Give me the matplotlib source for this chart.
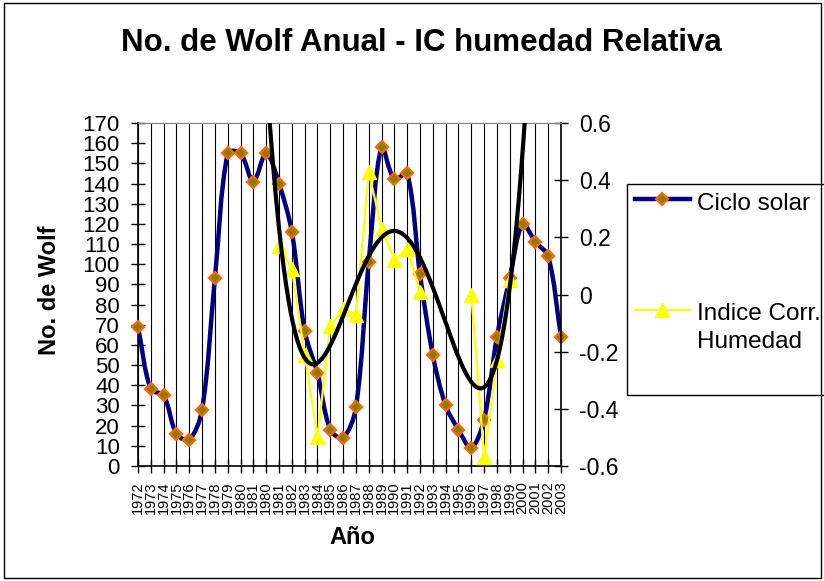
import matplotlib
matplotlib.use("Agg")
import matplotlib.pyplot as plt
from matplotlib.path import Path
from matplotlib.patches import PathPatch, Rectangle
from matplotlib.lines import Line2D
import numpy as np

plt.rcParams['font.family'] = ['Liberation Sans', 'DejaVu Sans']

# data (the sheet repeats 1980 and 1981)
years = ['1972', '1973', '1974', '1975', '1976', '1977', '1978', '1979', '1980', '1981',
         '1980', '1981', '1982', '1983', '1984', '1985', '1986', '1987', '1988', '1989',
         '1990', '1991', '1992', '1993', '1994', '1995', '1996', '1997', '1998', '1999',
         '2000', '2001', '2002', '2003']
wolf = [69, 38, 35, 16, 13, 28, 93, 155, 155, 141,
        155, 140, 116, 67, 46, 18, 14, 29, 101, 158,
        142, 145, 95, 55, 30, 18, 9, 23, 64, 93,
        120, 111, 104, 64]
nan = np.nan
indice = [nan, nan, nan, nan, nan, nan, nan, nan, nan, nan,
          nan, 0.17, 0.09, -0.21, -0.50, -0.11, -0.05, -0.07, 0.43, 0.23,
          0.12, 0.16, 0.01, nan, nan, nan, 0.00, -0.57, -0.23, 0.05,
          nan, nan, nan, nan]
left_ticks = list(range(0, 171, 10))
right_ticks = [-0.6, -0.4, -0.2, 0.0, 0.2, 0.4, 0.6]
right_labels = ['-0.6', '-0.4', '-0.2', '0', '0.2', '0.4', '0.6']

W, H = 824, 581
navy = '#000080'


def smooth_path(ax, x, y):
    # excel style smoothed line: bezier segments, control arms weighted
    # by segment length on screen
    tr = ax.transData
    p = tr.transform(np.column_stack([x, y]))
    n = len(p)
    verts = [p[0]]
    codes = [Path.MOVETO]
    for i in range(n - 1):
        p0 = p[i - 1] if i > 0 else p[i]
        p1, p2 = p[i], p[i + 1]
        p3 = p[i + 2] if i + 2 < n else p[i + 1]
        d01 = np.hypot(*(p1 - p0))
        d12 = np.hypot(*(p2 - p1))
        d23 = np.hypot(*(p3 - p2))
        f1 = d12 / (d01 + d12) / 3 if d01 + d12 > 0 else 0
        f2 = d12 / (d12 + d23) / 3 if d12 + d23 > 0 else 0
        c1 = p1 + (p2 - p0) * f1
        c2 = p2 - (p3 - p1) * f2
        verts += [c1, c2, p2]
        codes += [Path.CURVE4] * 3
    verts = tr.inverted().transform(np.array(verts))
    return Path(verts, codes)


fig = plt.figure(figsize=(W / 100, H / 100), dpi=100)
ax = fig.add_axes([138 / W, 1 - 466 / H, 423 / W, 343 / H])
xi = np.arange(len(years))

ax.set_xlim(0, len(years) - 1)
ax.set_ylim(0, 170)
ax.grid(axis='x', color='black', lw=0.8)
ax.add_patch(PathPatch(smooth_path(ax, xi, wolf), fill=False, edgecolor=navy, lw=3.2,
                       joinstyle='round', capstyle='round', zorder=3))
ax.plot(xi, wolf, ls='none', marker='D', ms=6.5, mfc='#808000', mec='#FF6600', mew=1.6,
        zorder=4, clip_on=False)
ax.set_yticks(left_ticks)
ax.set_xticks(xi)
ax.set_xticklabels(years, rotation=90, fontsize=10.5)
ax.tick_params(axis='y', labelsize=16, direction='inout', length=10, width=1, pad=8)
ax.tick_params(axis='x', direction='inout', length=10, width=1, pad=6)
ax.spines['top'].set_color('#808080')
ax.spines['right'].set_visible(False)
for s in ['left', 'bottom']:
    ax.spines[s].set_linewidth(1.2)

ax2 = ax.twinx()
ind = np.array(indice)
ax2.plot(xi, ind, color='#FFFF00', lw=1.6, marker='^', ms=9.5, mfc='#FFFF00', mec='#FFFF00',
         zorder=3, clip_on=False)
ok = ~np.isnan(ind)
coef = np.polyfit(xi[ok], ind[ok], 4)
xs = np.linspace(0, len(years) - 1, 500)
ax2.plot(xs, np.polyval(coef, xs), color='black', lw=3, zorder=4)
ax2.set_ylim(-0.6, 0.6)
ax2.set_yticks(right_ticks)
ax2.set_yticklabels(right_labels)
ax2.tick_params(axis='y', labelsize=16.5, direction='inout', length=10, width=1, pad=8)
ax2.spines['top'].set_color('#808080')
ax2.spines['left'].set_visible(False)
ax2.spines['bottom'].set_visible(False)
ax2.spines['right'].set_linewidth(1.2)

fig.text(421 / W, 1 - 43 / H, 'No. de Wolf Anual - IC humedad Relativa', ha='center', va='center',
         fontsize=22.5, fontweight='bold')
fig.text(49 / W, 1 - 290 / H, 'No. de Wolf', rotation=90, ha='center', va='center',
         fontsize=17, fontweight='bold')
fig.text(352 / W, 1 - 538 / H, 'Año', ha='center', va='center', fontsize=17, fontweight='bold')

# outer chart border
fig.add_artist(Rectangle((4 / W, 3 / H), 817 / W, 575 / H, transform=fig.transFigure,
                         fill=False, lw=1, ec='black'))

# legend box (runs off the right edge like the original)
fig.add_artist(Rectangle((627 / W, 1 - 395 / H), 220 / W, 211 / H, transform=fig.transFigure,
                         fill=False, lw=1, ec='black'))
fig.add_artist(Line2D([635 / W, 690 / W], [1 - 199 / H] * 2, transform=fig.transFigure,
                      color=navy, lw=3.2))
fig.add_artist(Line2D([662 / W], [1 - 199 / H], transform=fig.transFigure, ls='none', marker='D',
                      ms=6.5, mfc='#808000', mec='#FF6600', mew=1.6))
fig.add_artist(Line2D([635 / W, 690 / W], [1 - 310 / H] * 2, transform=fig.transFigure,
                      color='#FFFF00', lw=1.6))
fig.add_artist(Line2D([662 / W], [1 - 310 / H], transform=fig.transFigure, ls='none', marker='^',
                      ms=9.5, mfc='#FFFF00', mec='#FFFF00'))
fig.text(697 / W, 1 - 210 / H, 'Ciclo solar', va='baseline', fontsize=17.5)
fig.text(697 / W, 1 - 320 / H, 'Indice Corr.', va='baseline', fontsize=17.5)
fig.text(697 / W, 1 - 348 / H, 'Humedad', va='baseline', fontsize=17.5)

fig.savefig('out.png', dpi=100)
